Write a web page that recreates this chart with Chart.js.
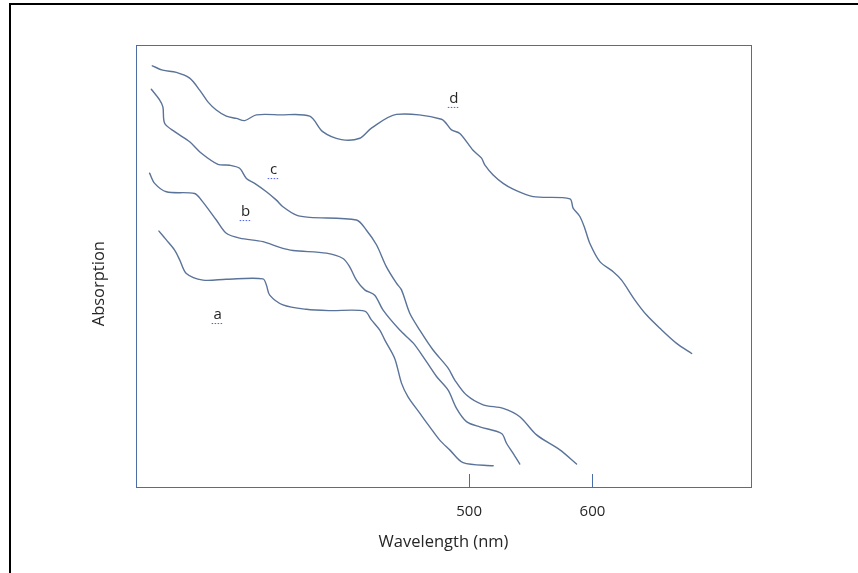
<!DOCTYPE html>
<html>
<head>
<meta charset="utf-8">
<script src="https://cdn.jsdelivr.net/npm/chart.js@4.4.0/dist/chart.umd.min.js"></script>
<style>
  body { margin: 0; background: #fff; }
  #marco { position: absolute; left: 9px; top: 3px; width: 860px; height: 580px;
           border-left: 2px solid #000; border-top: 2px solid #000; }
  #lienzo { position: absolute; left: 0; top: 0; }
</style>
</head>
<body>
<div id="marco"></div>
<canvas id="lienzo" width="858" height="573"></canvas>
<script>
// curvas a, b, c, d : longitud de onda (nm) y absorcion (unidades arbitrarias)
const aNm  = [248.6, 254.6, 261.3, 265.4, 270.8, 284.3, 303.2, 332.9, 335.7, 338.4, 349.1, 368.1, 387, 415.4, 420.8, 427.6, 431.6, 439.7, 445.2, 450.5, 460, 468.1, 476.2, 484.3, 495.1, 519.5];
const aAbs = [57.9, 55.9, 53.6, 51.4, 48.3, 46.8, 47.0, 47.1, 45.7, 43.4, 41.2, 40.2, 39.9, 39.8, 37.8, 35.5, 33.3, 29.1, 23.5, 20.4, 16.7, 13.6, 10.6, 8.4, 5.5, 4.8];

const bNm  = [241, 245.1, 254.6, 277.5, 283, 295.1, 303.2, 314, 332.9, 346.5, 357.3, 384.3, 397.8, 403.2, 408.7, 415.4, 423.5, 430.3, 443.8, 454.6, 462.7, 473.6, 483, 489.8, 497.9, 508.7, 526.3, 530.3, 535.7, 541.1];
const bAbs = [71.0, 68.7, 66.8, 66.4, 64.9, 60.4, 57.4, 56.3, 55.5, 54.2, 53.5, 52.9, 51.7, 49.8, 46.8, 44.6, 43.4, 40.0, 35.5, 32.6, 29.5, 25.0, 21.9, 17.8, 14.8, 13.6, 12.1, 9.9, 7.6, 5.2];

const cNm  = [242.4, 249.1, 251.8, 253.2, 261.3, 273.5, 283, 296.4, 305.9, 314, 319.5, 326.2, 335.7, 343.8, 349.1, 360, 370.8, 408.7, 416.8, 424.9, 433, 441.1, 445.2, 451.9, 460, 470.8, 483, 488.4, 497.9, 511.4, 527.6, 541.1, 554.7, 573.6, 587.1];
const cAbs = [90.0, 87.6, 86.0, 82.3, 80.4, 78.1, 75.5, 73.0, 72.8, 72.1, 69.8, 68.7, 66.8, 64.9, 63.4, 61.5, 61.0, 60.4, 58.1, 54.8, 49.8, 46.1, 44.6, 39.3, 35.5, 31.0, 26.9, 24.2, 20.8, 18.6, 17.8, 15.9, 11.8, 8.4, 5.2];

const dNm  = [243.2, 251.6, 262.7, 273.5, 281.6, 288.1, 295.1, 303.2, 311.4, 318.1, 327.6, 346.5, 370.8, 381.3, 396.5, 411.4, 420.8, 441.1, 477.6, 485.7, 492.5, 503.2, 510.1, 512.7, 519.5, 527.6, 535.7, 551.9, 581.7, 584.3, 589.8, 593.8, 597.9, 606, 616.8, 623.6, 634.4, 643.9, 654.7, 668.2, 680.4];
const dAbs = [95.3, 94.3, 93.8, 92.5, 89.8, 87.2, 85.3, 83.9, 83.4, 82.9, 84.2, 84.2, 83.9, 80.4, 78.6, 78.9, 81.2, 84.3, 83.2, 80.8, 80.0, 76.2, 74.4, 72.9, 70.6, 68.7, 67.4, 65.7, 65.2, 63.1, 61.2, 58.5, 55.1, 51.0, 48.7, 46.8, 42.3, 38.9, 35.9, 32.5, 30.2];

// etiquetas de las curvas
const letras   = ['a', 'b', 'c', 'd'];
const letrasNm = [296.2, 318.9, 341.6, 487.6];
const letrasAb = [38.9, 62.2, 71.7, 87.8];

const marcasX = [500, 600];
const tituloY = 'Absorption';
const tituloYAb = 46; // altura donde va centrado el titulo del eje y

const colorLinea = '#5a7399';
const colorCaja = '#4c6ea6';
const colorTexto = '#262626';
const fuente = "'Open Sans', 'DejaVu Sans', sans-serif";

function puntos(xs, ys) {
  return xs.map((x, i) => ({ x: x, y: ys[i] }));
}

const series = [
  { label: 'a', data: puntos(aNm, aAbs) },
  { label: 'b', data: puntos(bNm, bAbs) },
  { label: 'c', data: puntos(cNm, cAbs) },
  { label: 'd', data: puntos(dNm, dAbs) }
].map(s => Object.assign(s, {
  showLine: true,
  borderColor: colorLinea,
  borderWidth: 1.4,
  pointRadius: 0,
  tension: 0.3,
  fill: false
}));

// caja, marcas hacia dentro, letras y titulo vertical
const extras = {
  id: 'extras',
  afterDatasetsDraw(chart) {
    const { ctx, chartArea: ca, scales: { x, y } } = chart;
    ctx.save();
    ctx.strokeStyle = colorCaja;
    ctx.lineWidth = 1;
    ctx.strokeRect(Math.round(ca.left) + 0.5, Math.round(ca.top) + 0.5,
                   Math.round(ca.right - ca.left), Math.round(ca.bottom - ca.top));
    marcasX.forEach(v => {
      const px = Math.round(x.getPixelForValue(v)) + 0.5;
      ctx.beginPath();
      ctx.moveTo(px, ca.bottom);
      ctx.lineTo(px, ca.bottom - 13);
      ctx.stroke();
    });
    ctx.font = '15px ' + fuente;
    ctx.textAlign = 'center';
    ctx.textBaseline = 'middle';
    letras.forEach((t, i) => {
      const px = x.getPixelForValue(letrasNm[i]);
      const py = y.getPixelForValue(letrasAb[i]);
      ctx.fillStyle = colorTexto;
      ctx.fillText(t, px, py);
      // subrayado punteado del corrector
      ctx.strokeStyle = '#4a5cf0';
      ctx.setLineDash([1.5, 1.5]);
      ctx.beginPath();
      ctx.moveTo(px - 6, py + 8.5);
      ctx.lineTo(px + 6, py + 8.5);
      ctx.stroke();
      ctx.setLineDash([]);
    });
    // titulo del eje y
    ctx.translate(y.left + 12, y.getPixelForValue(tituloYAb));
    ctx.rotate(-Math.PI / 2);
    ctx.font = '16.5px ' + fuente;
    ctx.fillStyle = colorTexto;
    ctx.fillText(tituloY, 0, 0);
    ctx.restore();
  }
};

new Chart(document.getElementById('lienzo'), {
  type: 'scatter',
  data: { datasets: series },
  options: {
    responsive: false,
    animation: false,
    layout: { padding: { left: 87, right: 107, top: 45, bottom: 17.1 } },
    plugins: { legend: { display: false }, tooltip: { enabled: false } },
    elements: { line: { borderCapStyle: 'round' } },
    scales: {
      x: {
        type: 'linear',
        min: 230,
        max: 728.5,
        afterBuildTicks: (s) => { s.ticks = marcasX.map(v => ({ value: v })); },
        afterFit: (s) => { s.height = 68.9; },
        grid: { display: false },
        border: { display: false },
        ticks: { padding: 8, color: colorTexto, font: { family: fuente, size: 15 }, maxRotation: 0 },
        title: { display: true, text: 'Wavelength (nm)', color: colorTexto, font: { family: fuente, size: 16.5 }, padding: { top: 4, bottom: 4 } }
      },
      y: {
        min: 0,
        max: 100,
        afterFit: (s) => { s.width = 49; },
        grid: { display: false },
        border: { display: false },
        ticks: { display: false }
      }
    }
  },
  plugins: [extras]
});
</script>
</body>
</html>
